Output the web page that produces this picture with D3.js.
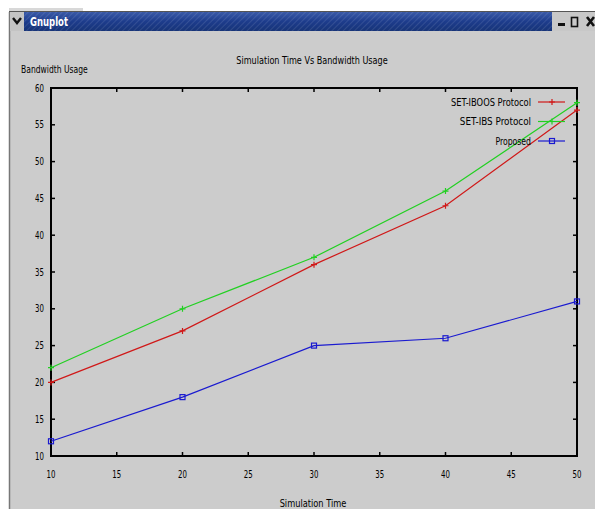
<!DOCTYPE html>
<html><head><meta charset="utf-8">
<script src="https://cdn.jsdelivr.net/npm/d3@7"></script>
<style>
html,body{margin:0;padding:0;background:#fff;}
svg{display:block;}
text{font-family:"DejaVu Sans Condensed","Liberation Sans Narrow",sans-serif;fill:#000;}
</style></head>
<body><svg id="c" width="595" height="509"></svg>
<script>
const times = [10, 20, 30, 40, 50];
const seriesNames = ["SET-IBOOS Protocol", "SET-IBS Protocol", "Proposed"];
const iboosValues = [20, 27, 36, 44, 57];
const ibsValues = [22, 30, 37, 46, 58];
const proposedValues = [12, 18, 25, 26, 31];
const xTicks = [10, 15, 20, 25, 30, 35, 40, 45, 50];
const yTicks = [10, 15, 20, 25, 30, 35, 40, 45, 50, 55, 60];
const chartTitle = "Simulation Time Vs Bandwidth Usage";
const xTitle = "Simulation Time";
const yTitle = "Bandwidth Usage";
const windowTitle = "Gnuplot";

const series = [
  {name: seriesNames[0], values: iboosValues, color: "#d01818", marker: "plus"},
  {name: seriesNames[1], values: ibsValues, color: "#22d022", marker: "plus"},
  {name: seriesNames[2], values: proposedValues, color: "#1a1ad0", marker: "box"}
];

const CHAR_W = 4.45;
function fixedText(sel) {
  sel.each(function(){
    const n = this.textContent.length;
    d3.select(this).attr("textLength", n*CHAR_W).attr("lengthAdjust","spacingAndGlyphs");
  });
  return sel;
}

const svg = d3.select("#c");
const defs = svg.append("defs");
const grad = defs.append("linearGradient").attr("id","tb").attr("x1",0).attr("y1",0).attr("x2",0).attr("y2",1);
grad.append("stop").attr("offset","0%").attr("stop-color","#3a5aa8");
grad.append("stop").attr("offset","50%").attr("stop-color","#1d3c8c");
grad.append("stop").attr("offset","100%").attr("stop-color","#173478");
const pat = defs.append("pattern").attr("id","stripes").attr("width",4).attr("height",4)
  .attr("patternUnits","userSpaceOnUse").attr("patternTransform","rotate(45)");
pat.append("rect").attr("width",1).attr("height",4).attr("fill","rgba(255,255,255,0.10)");

// window background
svg.append("rect").attr("x",9).attr("y",12).attr("width",586).attr("height",497).attr("fill","#cccccc");
svg.append("line").attr("x1",9.5).attr("x2",9.5).attr("y1",12).attr("y2",509).attr("stroke","#777").attr("stroke-width",1.5);
svg.append("line").attr("x1",9).attr("x2",595).attr("y1",11.5).attr("y2",11.5).attr("stroke","#555").attr("stroke-width",1);
svg.append("rect").attr("x",9).attr("y",8).attr("width",74).attr("height",3).attr("fill","#d8d8d8");
// title bar
svg.append("rect").attr("x",10).attr("y",12).attr("width",14).attr("height",19).attr("fill","#c4c4c4");
svg.append("path").attr("d","M13,18 L17,23 L21,18").attr("fill","none").attr("stroke","#111").attr("stroke-width",2.4);
svg.append("rect").attr("x",24).attr("y",12).attr("width",528).attr("height",19).attr("fill","url(#tb)");
svg.append("rect").attr("x",24).attr("y",12).attr("width",528).attr("height",19).attr("fill","url(#stripes)");
svg.append("text").attr("x",30).attr("y",26).attr("font-size",12).attr("font-weight","bold")
  .attr("textLength",38).attr("lengthAdjust","spacingAndGlyphs")
  .style("fill","#ffffff").text(windowTitle);
svg.append("rect").attr("x",552).attr("y",12).attr("width",43).attr("height",19).attr("fill","#c8c8c8");
svg.append("rect").attr("x",558).attr("y",23).attr("width",7).attr("height",3).attr("fill","#111");
svg.append("rect").attr("x",571.5).attr("y",17.5).attr("width",6).attr("height",9).attr("fill","none").attr("stroke","#111").attr("stroke-width",1.6);
svg.append("path").attr("d","M587,17 L594,26 M594,17 L587,26").attr("stroke","#111").attr("stroke-width",2.6);

// plot
const x = d3.scaleLinear().domain([10,50]).range([51,577]);
const y = d3.scaleLinear().domain([10,60]).range([456,88]);

const g = svg.append("g");
const tickLen = 4;
xTicks.forEach(t => {
  g.append("line").attr("x1",x(t)).attr("x2",x(t)).attr("y1",y(10)).attr("y2",y(10)-tickLen).attr("stroke","#000").attr("stroke-width",1.5);
  g.append("line").attr("x1",x(t)).attr("x2",x(t)).attr("y1",y(60)).attr("y2",y(60)+tickLen).attr("stroke","#000").attr("stroke-width",1.5);
  fixedText(g.append("text").attr("x",x(t)).attr("y",y(10)+22).attr("text-anchor","middle").attr("font-size",10).text(t));
});
yTicks.forEach(t => {
  g.append("line").attr("x1",x(10)).attr("x2",x(10)+tickLen).attr("y1",y(t)).attr("y2",y(t)).attr("stroke","#000").attr("stroke-width",1.5);
  g.append("line").attr("x1",x(50)).attr("x2",x(50)-tickLen).attr("y1",y(t)).attr("y2",y(t)).attr("stroke","#000").attr("stroke-width",1.5);
  fixedText(g.append("text").attr("x",44).attr("y",y(t)+3.5).attr("text-anchor","end").attr("font-size",10).text(t));
});
g.append("rect").attr("x",x(10)).attr("y",y(60)).attr("width",x(50)-x(10)).attr("height",y(10)-y(60))
  .attr("fill","none").attr("stroke","#000").attr("stroke-width",2);

fixedText(svg.append("text").attr("x",312).attr("y",64).attr("text-anchor","middle").attr("font-size",10).text(chartTitle));
fixedText(svg.append("text").attr("x",21).attr("y",73).attr("font-size",10).text(yTitle));
fixedText(svg.append("text").attr("x",313).attr("y",507).attr("text-anchor","middle").attr("font-size",10).text(xTitle));

function marker(sel, cx, cy, type, color) {
  if (type === "box") {
    sel.append("rect").attr("x",cx-2.5).attr("y",cy-2.5).attr("width",5).attr("height",5)
      .attr("fill","none").attr("stroke",color).attr("stroke-width",1.2);
  } else {
    sel.append("path").attr("d",`M${cx-3},${cy} L${cx+3},${cy} M${cx},${cy-3} L${cx},${cy+3}`)
      .attr("stroke",color).attr("stroke-width",1.2);
  }
}

const line = d3.line().x((d,i)=>x(times[i])).y(d=>y(d));
series.forEach((s, k) => {
  g.append("path").datum(s.values).attr("d",line).attr("fill","none").attr("stroke",s.color).attr("stroke-width",1.2);
  s.values.forEach((v,i)=> marker(g, x(times[i]), y(v), s.marker, s.color));
  const ly = 102 + k*19.5;
  fixedText(svg.append("text").attr("x",531).attr("y",ly+3.5).attr("text-anchor","end").attr("font-size",10).text(s.name));
  svg.append("line").attr("x1",538).attr("x2",565).attr("y1",ly).attr("y2",ly).attr("stroke",s.color).attr("stroke-width",1.2);
  marker(svg, 552, ly, s.marker, s.color);
});
</script></body></html>
